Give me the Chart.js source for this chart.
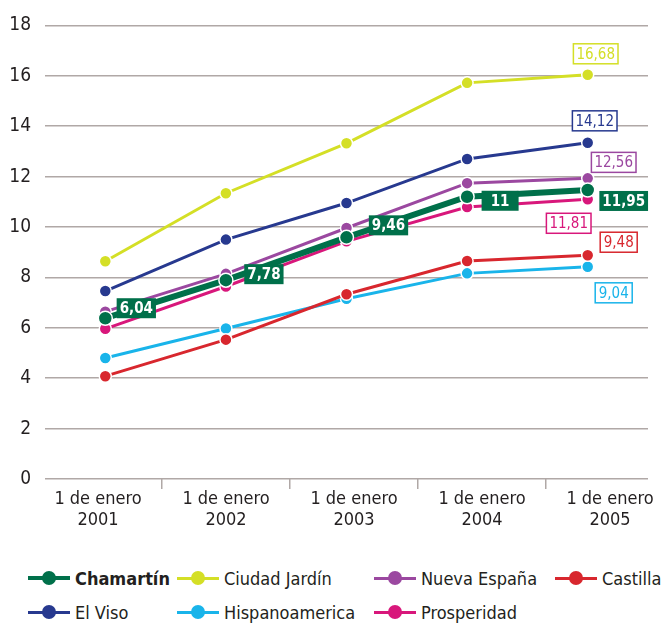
<!DOCTYPE html>
<html>
<head>
<meta charset="utf-8">
<script src="https://cdn.jsdelivr.net/npm/chart.js@4.4.1/dist/chart.umd.min.js"></script>
<style>
  body { margin: 0; background: #fff; font-family: "DejaVu Sans", sans-serif; font-stretch: condensed; color: #231f20; }
  #wrap { position: relative; width: 665px; height: 560px; }
  #legend { display: grid; grid-template-columns: 149px 197px 181px auto; grid-auto-rows: 34px; padding-left: 28px; margin-top: 1px; }
  .item { display: flex; align-items: center; font-size: 18px; white-space: nowrap; }
  .sym { position: relative; width: 42px; height: 14px; margin-right: 5px; flex: none; }
  .sym .ln { position: absolute; left: 0; right: 0; top: 5.5px; height: 3px; }
  .sym .dt { position: absolute; left: 14px; top: 0; width: 14px; height: 14px; border-radius: 50%; }
</style>
</head>
<body>
<div id="wrap"><canvas id="myChart" width="665" height="560"></canvas></div>
<div id="legend"></div>
<script>
// data
var years = ["2001", "2002", "2003", "2004", "2005"];
var firstLine = "1 de enero";

var chamartin      = [6.38, 7.89, 9.59, 11.2, 11.47];
var ciudadJardin   = [8.64, 11.34, 13.32, 15.72, 16.04];
var nuevaEspana    = [6.64, 8.14, 9.96, 11.74, 11.93];
var castilla       = [4.08, 5.53, 7.33, 8.65, 8.88];
var elViso         = [7.46, 9.5, 10.95, 12.7, 13.34];
var hispanoamerica = [4.8, 5.97, 7.15, 8.16, 8.42];
var prosperidad    = [5.96, 7.64, 9.43, 10.79, 11.1];

// boxed value labels as printed
var chamartinTags      = ["6,04", "7,78", "9,46", "11", "11,95"];
var ciudadJardinTags   = [null, null, null, null, "16,68"];
var nuevaEspanaTags    = [null, null, null, null, "12,56"];
var castillaTags       = [null, null, null, null, "9,48"];
var elVisoTags         = [null, null, null, null, "14,12"];
var hispanoamericaTags = [null, null, null, null, "9,04"];
var prosperidadTags    = [null, null, null, null, "11,81"];

var yTicks = [0, 2, 4, 6, 8, 10, 12, 14, 16, 18];

var series = [
  { name: "Chamartín", data: chamartin, tags: chamartinTags, color: "#00704a", bold: true },
  { name: "Ciudad Jardín", data: ciudadJardin, tags: ciudadJardinTags, color: "#d4df26" },
  { name: "Nueva España", data: nuevaEspana, tags: nuevaEspanaTags, color: "#9b48a0" },
  { name: "Castilla", data: castilla, tags: castillaTags, color: "#d8272e" },
  { name: "El Viso", data: elViso, tags: elVisoTags, color: "#27398f" },
  { name: "Hispanoamerica", data: hispanoamerica, tags: hispanoamericaTags, color: "#19b4ea" },
  { name: "Prosperidad", data: prosperidad, tags: prosperidadTags, color: "#d8177b" }
];

// where each box sits relative to its point
var tagOffsets = {
  "Chamartín": [[31, -10], [38, -6], [42, -12], [33, 4], [36, 11]],
  "Ciudad Jardín": [null, null, null, null, [8, -21]],
  "Nueva España": [null, null, null, null, [26, -16]],
  "Castilla": [null, null, null, null, [31, -13]],
  "El Viso": [null, null, null, null, [7, -22]],
  "Hispanoamerica": [null, null, null, null, [26, 26]],
  "Prosperidad": [null, null, null, null, [-19, 24]]
};

var gridColor = "#b0a8a6";
var font = "'DejaVu Sans', sans-serif";

var tagPlugin = {
  id: "tags",
  afterDatasetsDraw: function (chart) {
    var ctx = chart.ctx;
    ctx.save();
    series.forEach(function (s, di) {
      var meta = chart.getDatasetMeta(di);
      s.tags.forEach(function (t, i) {
        if (!t) return;
        var pt = meta.data[i];
        var off = tagOffsets[s.name][i];
        var cx = pt.x + off[0], cy = pt.y + off[1];
        ctx.font = (s.bold ? "bold condensed 15px " : "condensed 15px ") + font;
        var w = Math.max(37, ctx.measureText(t).width + 6), h = 20;
        if (s.bold) {
          ctx.fillStyle = s.color;
          ctx.fillRect(cx - w / 2, cy - h / 2, w, h);
          ctx.fillStyle = "#fff";
        } else {
          ctx.fillStyle = "#fff";
          ctx.fillRect(cx - w / 2, cy - h / 2, w, h);
          ctx.strokeStyle = s.color;
          ctx.lineWidth = 1.5;
          ctx.strokeRect(cx - w / 2, cy - h / 2, w, h);
          ctx.fillStyle = s.color;
        }
        ctx.textAlign = "center";
        ctx.textBaseline = "middle";
        ctx.fillText(t, cx, cy + 1);
      });
    });
    ctx.restore();
  }
};

new Chart("myChart", {
  type: "line",
  data: {
    labels: years,
    datasets: series.map(function (s) {
      return {
        label: s.name,
        data: s.data,
        borderColor: s.color,
        backgroundColor: s.color,
        borderWidth: s.bold ? 6 : 3,
        pointRadius: s.bold ? 7 : 6,
        pointBorderColor: "#fff",
        pointBorderWidth: 1.5,
        pointBackgroundColor: s.color,
        tension: 0
      };
    })
  },
  options: {
    responsive: false,
    animation: false,
    events: [],
    layout: { padding: { top: 9, right: 17, left: 0, bottom: 0 } },
    plugins: { legend: { display: false }, tooltip: { enabled: false } },
    scales: {
      x: { type: "category", display: false, offset: true },
      xl: {
        type: "linear",
        position: "bottom",
        min: -0.414,
        max: 4.297,
        afterBuildTicks: function (axis) {
          axis.ticks = years.map(function (y, i) { return { value: i }; });
        },
        afterFit: function (axis) { axis.height = 81; },
        border: { display: false },
        grid: { offset: true, drawOnChartArea: false, drawTicks: true, tickLength: 10, color: gridColor, lineWidth: 1.5 },
        ticks: {
          autoSkip: false,
          maxRotation: 0,
          padding: 0,
          color: "#231f20",
          font: { family: font, size: 18, weight: "condensed", lineHeight: 1.15 },
          callback: function (v, i) { return [firstLine, years[i]]; }
        }
      },
      y: {
        min: 0,
        max: 18,
        afterBuildTicks: function (axis) {
          axis.ticks = yTicks.map(function (v) { return { value: v }; });
        },
        afterFit: function (axis) { axis.width = 45; },
        border: { display: false },
        grid: { color: gridColor, lineWidth: 1.5, drawTicks: false },
        ticks: { padding: 14, color: "#231f20", font: { family: font, size: 19, weight: "condensed" } }
      }
    }
  },
  plugins: [tagPlugin]
});

// legend
var legend = document.getElementById("legend");
series.forEach(function (s) {
  var item = document.createElement("div");
  item.className = "item";
  if (s.bold) item.style.fontWeight = "bold";
  item.innerHTML = '<span class="sym"><span class="ln" style="background:' + s.color + (s.bold ? ';height:4px;top:5px' : '') +
    '"></span><span class="dt" style="background:' + s.color + '"></span></span>' + s.name;
  legend.appendChild(item);
});
</script>
</body>
</html>
